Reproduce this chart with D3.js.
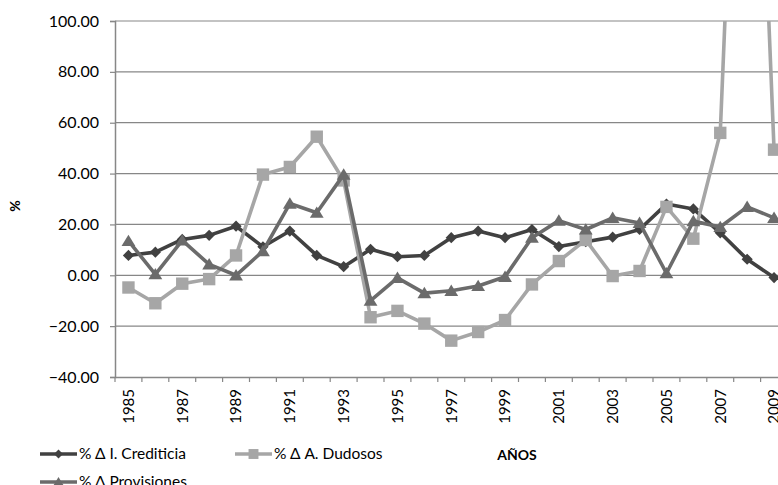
<!DOCTYPE html>
<html><head><meta charset="utf-8">
<script src="https://cdn.jsdelivr.net/npm/d3@7/dist/d3.min.js"></script>
<style>
body{margin:0;background:#fff;overflow:hidden}
svg{display:block}
text{font-family:Lato,"Open Sans",sans-serif;fill:#000}
</style>
</head><body>
<svg id="c" width="778" height="485"></svg>
<script>
const years = [1985,1986,1987,1988,1989,1990,1991,1992,1993,1994,1995,1996,1997,1998,1999,2000,2001,2002,2003,2004,2005,2006,2007,2008,2009];
const labelYears = [1985,1987,1989,1991,1993,1995,1997,1999,2001,2003,2005,2007,2009];
const yTicks = [-40,-20,0,20,40,60,80,100];
const crediticia = [7.8,9.1,14.1,15.7,19.3,11.2,17.4,7.8,3.4,10.2,7.3,7.8,14.8,17.4,14.8,18.0,11.3,13.2,15.0,18.0,28.0,26.1,16.7,6.3,-0.9];
const dudosos = [-4.8,-11.0,-3.3,-1.5,7.8,39.6,42.6,54.5,37.3,-16.5,-14.0,-19.0,-25.7,-22.3,-17.6,-3.6,5.6,13.9,-0.3,1.7,26.9,14.4,56.0,310.0,49.4];
const provisiones = [13.5,0.4,13.7,4.3,0.0,9.5,28.2,24.6,39.6,-10.0,-1.0,-7.0,-6.1,-4.2,-0.6,14.8,21.5,18.0,22.6,20.6,0.8,21.3,19.0,26.9,22.6];
const seriesNames = ["% \u0394 I. Crediticia","% \u0394 A. Dudosos","% \u0394 Provisiones"];

const svg = d3.select("#c");
const L = 115, T = 21, B = 377, band = 26.9;
const x = d3.scaleBand().domain(years).range([L, L + band*years.length]).padding(0);
const y = d3.scaleLinear().domain([-40,100]).range([B, T]);

const gridCol = "#878787";
svg.append("g").selectAll("line").data(yTicks.filter(d=>d>-40)).join("line")
  .attr("x1", L).attr("x2", 790).attr("y1", d=>y(d)).attr("y2", d=>y(d))
  .attr("stroke", gridCol).attr("stroke-width", 1.2);

const yAxis = svg.append("g").attr("transform", `translate(${L},0)`)
  .call(d3.axisLeft(y).tickValues(yTicks).tickFormat(d3.format(".2f")).tickSize(5).tickPadding(11));
yAxis.select(".domain").attr("stroke", gridCol).attr("stroke-width", 1.5);
yAxis.selectAll(".tick line").attr("stroke", gridCol).attr("stroke-width", 1.2);
yAxis.selectAll("text").style("font-size","16px").attr("fill","#000").attr("font-family",null);

const xAxis = svg.append("g").attr("transform", `translate(0,${B})`)
  .call(d3.axisBottom(x).tickValues(labelYears).tickSize(0));
xAxis.select(".domain").attr("stroke", gridCol).attr("stroke-width", 1.5);
xAxis.selectAll("text").style("font-size","15px").attr("font-family",null)
  .attr("text-anchor","end").attr("transform","rotate(-90)")
  .attr("x",-12).attr("y",0).attr("dy","0.36em");
svg.append("g").selectAll("line").data(years.concat([null])).join("line")
  .attr("x1", d=> d===null ? x.range()[1] : x(d)).attr("x2", d=> d===null ? x.range()[1] : x(d))
  .attr("y1", B).attr("y2", B+5).attr("stroke", gridCol).attr("stroke-width", 1.2);

svg.append("clipPath").attr("id","pc").append("rect")
  .attr("x", L).attr("y", T).attr("width", 700).attr("height", B-T);

const cx = d => x(d) + x.bandwidth()/2;
const colors = ["#414141","#a6a6a6","#6b6b6b"];
const data = [crediticia, dudosos, provisiones];

function marker(sel, type, s){
  if(type===0){
    sel.attr("d", `M0,${-s}L${s},0L0,${s}L${-s},0Z`);
  } else if(type===1){
    sel.attr("d", `M${-s},${-s}H${s}V${s}H${-s}Z`);
  } else {
    sel.attr("d", `M0,${-s*1.05}L${s*1.15},${s*0.85}L${-s*1.15},${s*0.85}Z`);
  }
}
const msize = [5.6, 6.2, 6.0];

const plot = svg.append("g").attr("clip-path","url(#pc)");
data.forEach((vals, i) => {
  const g = plot.append("g");
  const line = d3.line().x((d,j)=>cx(years[j])).y(d=>y(d));
  g.append("path").datum(vals).attr("d", line).attr("fill","none")
    .attr("stroke", colors[i]).attr("stroke-width", 3.6).attr("stroke-linejoin","round");
  g.selectAll("path.m").data(vals).join("path").attr("class","m")
    .attr("transform",(d,j)=>`translate(${cx(years[j])},${y(d)})`)
    .attr("fill", colors[i]).call(marker, i, msize[i]);
});

svg.append("text").attr("x", 517).attr("y", 460).attr("text-anchor","middle")
  .style("font-size","14px").style("font-weight","bold").text("A\u00d1OS");
svg.append("text").attr("transform","translate(20,206) rotate(-90)").attr("text-anchor","middle")
  .style("font-size","14px").style("font-weight","bold").text("%");

const leg = [{x:40,y:454},{x:235,y:454},{x:40,y:482}];
leg.forEach((p,i)=>{
  const g = svg.append("g").attr("transform",`translate(${p.x},${p.y})`);
  g.append("line").attr("x1",0).attr("x2",37).attr("y1",0).attr("y2",0)
    .attr("stroke",colors[i]).attr("stroke-width",3.6);
  g.append("path").attr("transform","translate(18.5,0)").attr("fill",colors[i]).call(marker,i,msize[i]*0.8);
  g.append("text").attr("x",39).attr("y",0).attr("dy","0.35em").style("font-size","15.5px").text(seriesNames[i]);
});
</script>
</body></html>
